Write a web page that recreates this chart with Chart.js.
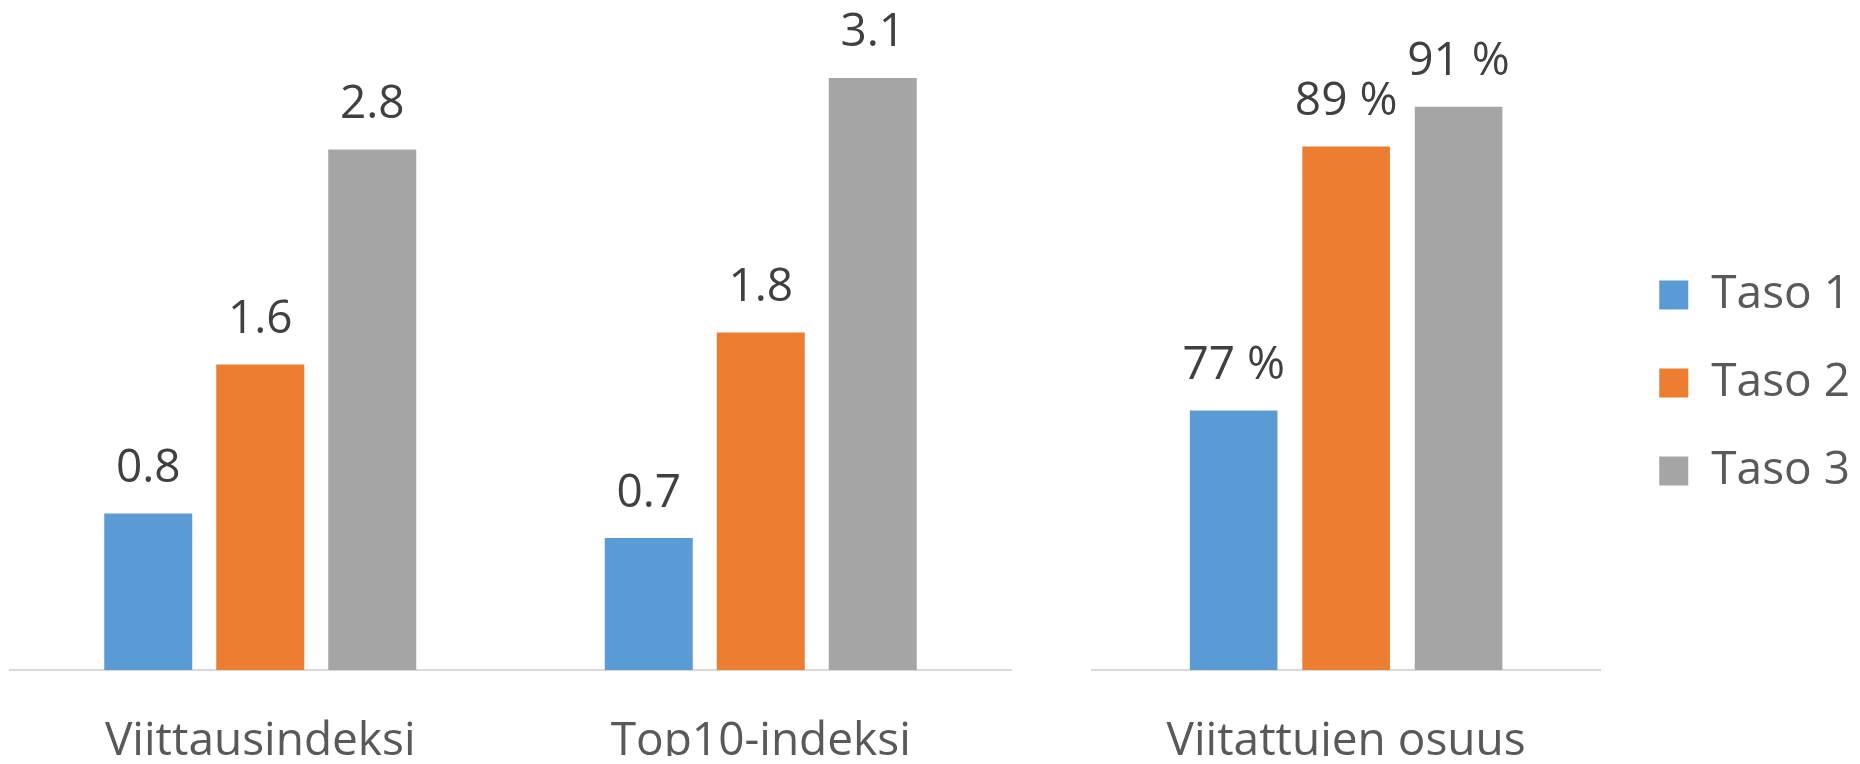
<!DOCTYPE html>
<html>
<head>
<meta charset="utf-8">
<script src="https://cdn.jsdelivr.net/npm/chart.js@4/dist/chart.umd.min.js"></script>
<style>
  html, body { margin: 0; padding: 0; background: #ffffff; }
  body { width: 1860px; height: 764px; position: relative; overflow: hidden; }
  canvas { position: absolute; top: 0; }
  #c1 { left: 0; }
  #c2 { left: 1040px; }
</style>
</head>
<body>
<canvas id="c1" width="1040" height="764"></canvas>
<canvas id="c2" width="820" height="764"></canvas>
<script>
// ---- data ----
const seriesNames = ['Taso 1', 'Taso 2', 'Taso 3'];
const seriesColors = ['#5B9BD5', '#ED7D31', '#A5A5A5'];

const indexCategories = ['Viittausindeksi', 'Top10-indeksi'];
const indexTaso1 = [0.83, 0.70];
const indexTaso2 = [1.62, 1.79];
const indexTaso3 = [2.76, 3.14];

const shareCategories = ['Viitattujen osuus'];
const shareTaso1 = [76.8];
const shareTaso2 = [88.8];
const shareTaso3 = [90.6];

const FONT = "'Open Sans', 'Noto Sans', sans-serif";

const dataLabelPlugin = {
  id: 'dataLabels',
  afterDatasetsDraw(chart, args, opts) {
    const ctx = chart.ctx;
    ctx.save();
    ctx.font = '46px ' + FONT;
    ctx.fillStyle = '#404040';
    ctx.textAlign = 'center';
    ctx.textBaseline = 'alphabetic';
    chart.data.datasets.forEach((ds, di) => {
      const meta = chart.getDatasetMeta(di);
      meta.data.forEach((el, i) => {
        ctx.fillText(opts.format(ds.data[i]), el.x, el.y - 31.5);
      });
    });
    ctx.restore();
  }
};

function makeDatasets(arrs, catPct, barPct) {
  return arrs.map((d, i) => ({
    label: seriesNames[i],
    data: d,
    backgroundColor: seriesColors[i],
    borderWidth: 0,
    categoryPercentage: catPct,
    barPercentage: barPct
  }));
}

const xAxisCommon = {
  grid: { display: false, drawTicks: false },
  border: { display: true, color: '#d9d9d9', width: 2 },
  ticks: {
    color: '#595959',
    padding: 49,
    font: { family: FONT, size: 46, lineHeight: 1 },
    maxRotation: 0,
    autoSkip: false
  },
  afterFit: s => { s.height = 86; }
};

new Chart(document.getElementById('c1'), {
  type: 'bar',
  data: {
    labels: indexCategories,
    datasets: makeDatasets([indexTaso1, indexTaso2, indexTaso3], 0.6713, 0.7857)
  },
  options: {
    responsive: false,
    animation: false,
    layout: { padding: { left: 10, right: 29, top: 10, bottom: 8 } },
    plugins: {
      legend: { display: false },
      tooltip: { enabled: false },
      dataLabels: { format: v => v.toFixed(1) }
    },
    scales: {
      x: xAxisCommon,
      y: { display: false, min: 0, max: 3.5 }
    }
  },
  plugins: [dataLabelPlugin]
});

new Chart(document.getElementById('c2'), {
  type: 'bar',
  data: {
    labels: shareCategories,
    datasets: makeDatasets([shareTaso1, shareTaso2, shareTaso3], 0.6638, 0.779)
  },
  options: {
    responsive: false,
    animation: false,
    layout: { padding: { left: 52, right: 0, top: 10, bottom: 8 } },
    plugins: {
      legend: {
        display: true,
        position: 'right',
        maxWidth: 320,
        labels: {
          boxWidth: 29,
          boxHeight: 29,
          padding: 42,
          color: '#595959',
          font: { family: FONT, size: 46 }
        }
      },
      tooltip: { enabled: false },
      dataLabels: { format: v => Math.round(v) + ' %' }
    },
    scales: {
      x: xAxisCommon,
      y: {
        display: true,
        position: 'right',
        min: 65,
        max: 95,
        ticks: { display: false },
        grid: { display: false, drawTicks: false },
        border: { display: false },
        afterFit: s => { s.width = 17; }
      }
    }
  },
  plugins: [dataLabelPlugin]
});
</script>
</body>
</html>
